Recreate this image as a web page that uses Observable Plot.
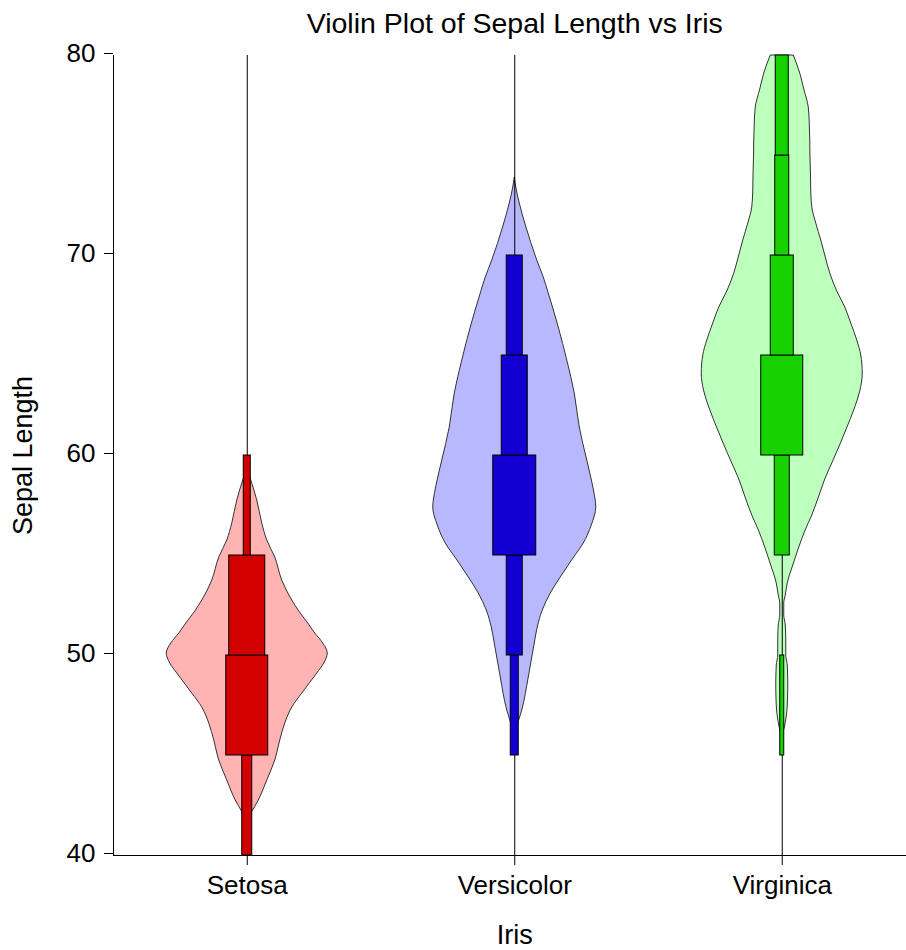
<!DOCTYPE html>
<html>
<head>
<meta charset="utf-8">
<script src="https://cdn.jsdelivr.net/npm/d3@7"></script>
<script src="https://cdn.jsdelivr.net/npm/@observablehq/plot@0.6"></script>
<style>
  html, body { margin: 0; padding: 0; background: #fff; }
  svg { display: block; }
</style>
</head>
<body>
<div id="chart"></div>
<script>
// ---- data ----
const categories = ["Setosa", "Versicolor", "Virginica"];
const yTicks = [40, 50, 60, 70, 80];
const chartTitle = "Violin Plot of Sepal Length vs Iris";
const xTitle = "Iris";
const yTitle = "Sepal Length";

// violin density profiles: [sepal length, density (arbitrary units)]
const setosaDensity = [[41.8,0],[42.1,4],[42.75,11.5],[43.75,20],[44.75,28],[45.75,33],[46.6,38],[47.4,45],[48.1,55],[49.1,70],[49.6,77],[50.1,80.5],[50.6,76],[51.1,68],[51.6,61],[52.2,52],[52.75,45],[53.75,35],[54.9,28],[55.75,20],[56.6,15],[57.75,10],[58.75,4],[59.35,0]];
const versicolorDensity = [[46.1,0],[47.25,7.5],[48.9,14],[50.6,20],[51.4,23],[52.25,28],[53.1,36],[53.9,46],[54.8,58],[55.6,69],[56.5,77],[57.4,81.5],[58.3,79],[59.0,76],[59.75,72.5],[61.4,65],[63.1,60],[64.75,52.5],[66.4,44],[68.1,34],[68.9,29],[69.75,22.5],[71.4,11.7],[72.6,5],[73.4,1.5],[73.9,0]];
const virginicaDensity = [[45.9,0],[46.5,3],[47.5,5.5],[48.5,6],[49.5,5.5],[50.0,4],[50.8,4],[51.5,3.5],[52.0,2],[52.6,2],[53.0,3.5],[53.6,5.5],[54.6,11.7],[55.4,17],[56.25,23.4],[57.0,30],[57.9,36.7],[58.8,43],[59.6,50],[60.4,57],[61.25,64],[62.4,73],[63.2,78],[64.1,80.5],[65.0,79],[65.75,75],[66.6,69],[67.4,63],[68.2,55],[69.1,48],[70.0,43],[70.75,39],[71.6,34],[72.4,30],[73.2,29],[74.1,28.7],[75.0,28.2],[75.75,28],[76.6,27.5],[77.4,26.5],[78.3,22],[79.1,18],[80.0,11.5]];

// percentile boxes: [low, high, weight]
const setosaBoxes = [[40,45,10],[45,50,42],[50,55,36],[55,60,7]];
const versicolorBoxes = [[45,50,8],[50,55,16],[55,60,43],[60,65,26],[65,70,16]];
const virginicaBoxes = [[45,50,4],[55,60,15],[60,65,42],[65,70,23],[70,75,14],[75,80,13]];

// ---- styling ----
const violinFills = ["#FFB3B3", "#B8B8FF", "#BDFFBD"];
const boxFills = ["#D20000", "#1200D2", "#16D200"];
const densities = [setosaDensity, versicolorDensity, virginicaDensity];
const boxes = [setosaBoxes, versicolorBoxes, virginicaBoxes];

const xRange = [113, 915.5];
const pxPerUnit = (xRange[1] - xRange[0]) / categories.length;
const dScale = 1 / pxPerUnit;

const marks = [];
densities.forEach((prof, i) => {
  const rows = prof.map(([v, d]) => ({v, d, c: i + 0.5}));
  marks.push(Plot.areaX(rows, {
    y: "v",
    x1: r => r.c - r.d * dScale,
    x2: r => r.c + r.d * dScale,
    fill: violinFills[i],
    stroke: "#333",
    strokeWidth: 1,
    curve: "monotone-y"
  }));
});
marks.push(Plot.ruleX(categories.map((c, i) => i + 0.5), {y1: 40, y2: 80, stroke: "black", strokeWidth: 1}));
boxes.forEach((bx, i) => {
  const rows = bx.map(([lo, hi, w]) => ({lo, hi, w, c: i + 0.5}));
  marks.push(Plot.rect(rows, {
    x1: r => r.c - r.w / 2 * dScale,
    x2: r => r.c + r.w / 2 * dScale,
    y1: "lo",
    y2: "hi",
    fill: boxFills[i],
    stroke: "black",
    strokeWidth: 1
  }));
});
marks.push(Plot.ruleX([0], {y1: 40, y2: 80, stroke: "black"}));
marks.push(Plot.ruleY([40], {stroke: "black"}));
marks.push(Plot.axisY({ticks: yTicks, tickSize: 9, tickPadding: 9, fontSize: 26, label: null, dy: -2}));
marks.push(Plot.axisX({
  ticks: categories.map((c, i) => i + 0.5),
  tickFormat: d => categories[Math.floor(d)],
  tickSize: 10, tickPadding: 10, fontSize: 26, label: null
}));
marks.push(Plot.text([chartTitle], {x: () => 1.5, y: () => 80, text: d => d, dy: -32, fontSize: 28.5, textAnchor: "middle"}));
marks.push(Plot.text([xTitle], {x: () => 1.5, y: () => 40, text: d => d, dy: 80, fontSize: 27, textAnchor: "middle"}));
marks.push(Plot.text([yTitle], {frameAnchor: "left", text: d => d, dx: -90, rotate: -90, fontSize: 27, textAnchor: "middle"}));

const chart = Plot.plot({
  width: 906,
  height: 950,
  marginTop: 55,
  marginBottom: 95,
  marginLeft: 113,
  marginRight: 0,
  x: {domain: [0, 3], range: xRange},
  y: {domain: [40, 80]},
  style: {fontFamily: "'Liberation Sans', Arial, sans-serif", fontSize: "26px", color: "black", background: "white", overflow: "visible"},
  marks
});
document.getElementById("chart").appendChild(chart);
</script>
</body>
</html>
